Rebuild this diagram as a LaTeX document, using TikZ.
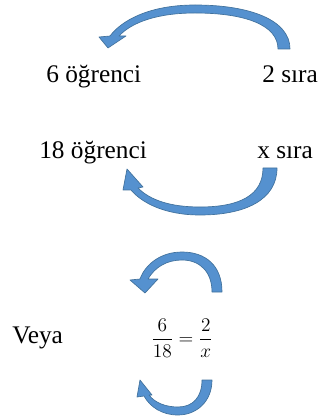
\RequirePackage{fix-cm}
\documentclass[tikz,border=0pt]{standalone}
\usepackage{amsmath}
\usepackage{fontspec}
\setmainfont{Liberation Serif}
\usepackage{xcolor}
\usepackage{tikz}
\usetikzlibrary{positioning}
\definecolor{arrowblue}{HTML}{5591CF}
\definecolor{arrowedge}{HTML}{41719C}

\begin{document}
\begin{tikzpicture}[
    x=0.75pt, y=-0.75pt,
    word/.style={inner sep=0pt, anchor=base west, font=\fontsize{19}{22}\selectfont},
    ratio/.style={inner sep=0pt, font=\fontsize{14.5}{17}\selectfont},
    bent/.style={fill=arrowblue, draw=arrowedge, line width=0.5pt, line join=round}
]
\useasboundingbox (0,0) rectangle (321,416);

% Quantities
\node[word] (stud1) at (46,83) {6 öğrenci};
\node[word] (row1) at (262,83) {2 sıra};
\node[word] (stud2) at (39,159) {18 öğrenci};
\node[word] (row2) at (257,159) {x sıra};

% Proportion
\node[word] (veya) at (12,343) {Veya};
\node[ratio] (frac) at (182,338) {$\dfrac{6}{18}=\dfrac{2}{x}$};

% Top arrow
\draw[bent] (290,49) .. controls (290,20) and (250,5) .. (195,5)
    .. controls (150,5) and (122,20) .. (110,36)
    -- (99,37) -- (108,48) -- (126,36) -- (119,36)
    .. controls (132,22) and (158,13) .. (195,13)
    .. controls (245,13) and (278,25) .. (278,49) -- cycle;

% Middle arrow
\draw[bent] (277,168) .. controls (277,200) and (245,215) .. (200,215)
    .. controls (165,215) and (142,203) .. (131,190)
    -- (123,190) -- (127,169) -- (143,187) -- (138,188)
    .. controls (150,200) and (170,207) .. (200,207)
    .. controls (240,207) and (263,195) .. (263,168) -- cycle;

% Arrow above the fractions
\draw[bent] (222,292) .. controls (222,265) and (205,252) .. (182,252)
    .. controls (160,252) and (145,265) .. (140,279)
    -- (130,280) -- (145,293) -- (158,279) -- (148,279)
    .. controls (155,267) and (167,260) .. (182,260)
    .. controls (200,260) and (212,272) .. (212,292) -- cycle;

% Arrow below the fractions
\draw[bent] (212,380) .. controls (212,402) and (196,415) .. (178,415)
    .. controls (162,415) and (150,407) .. (144,396)
    -- (137,397) -- (140,380) -- (152,395) -- (149,395)
    .. controls (155,403) and (166,407) .. (178,407)
    .. controls (193,407) and (202,397) .. (202,380) -- cycle;

\end{tikzpicture}
\end{document}
